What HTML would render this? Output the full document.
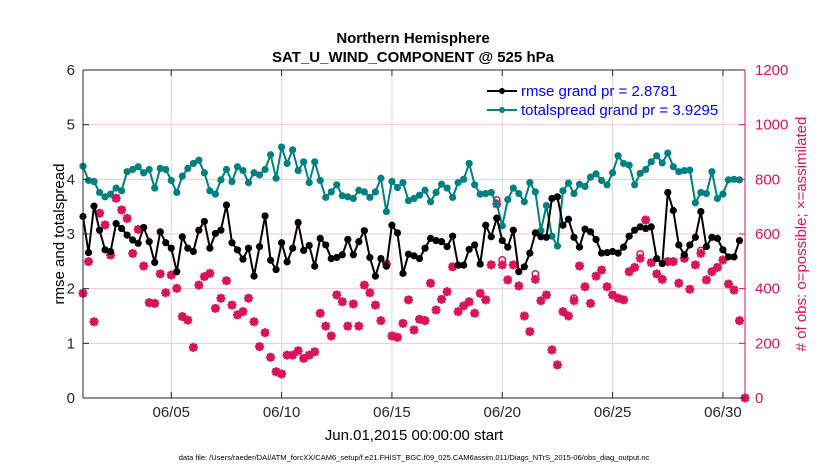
<!DOCTYPE html>
<html><head><meta charset="utf-8"><style>
html,body{margin:0;padding:0;background:#fff;}
svg{display:block;font-family:"Liberation Sans",Arial,sans-serif;}
</style></head><body>
<svg id="chart" width="830" height="470" viewBox="0 0 830 470" xmlns="http://www.w3.org/2000/svg">
<g id="grid"></g>
<g id="series"></g>
<g id="axes"></g>
<text x="413" y="43" text-anchor="middle" font-size="15" font-weight="bold">Northern Hemisphere</text>
<text x="413" y="62" text-anchor="middle" font-size="15" font-weight="bold">SAT_U_WIND_COMPONENT @ 525 hPa</text>
<text transform="translate(64,234) rotate(-90)" text-anchor="middle" font-size="15">rmse and totalspread</text>
<text transform="translate(806,234) rotate(-90)" text-anchor="middle" font-size="15" fill="#d6155a"># of obs: o=possible; ×=assimilated</text>
<text x="414" y="440" text-anchor="middle" font-size="15">Jun.01,2015 00:00:00 start</text>
<text x="414" y="460" text-anchor="middle" font-size="7.5">data file: /Users/raeder/DAI/ATM_forcXX/CAM6_setup/f.e21.FHIST_BGC.f09_025.CAM6assim.011/Diags_NTrS_2015-06/obs_diag_output.nc</text>
<g>
  <g>
    <line x1="487" y1="91" x2="517" y2="91" stroke="#000" stroke-width="2"/>
    <circle cx="502" cy="91" r="3" fill="#000"/>
    <text x="521" y="96" font-size="15" fill="#0000ff">rmse grand pr = 2.8781</text>
  </g>
  <g>
    <line x1="487" y1="110" x2="517" y2="110" stroke="#008080" stroke-width="2"/>
    <circle cx="502" cy="110" r="3" fill="#008080"/>
    <text x="521" y="115" font-size="15" fill="#0000ff">totalspread grand pr = 3.9295</text>
  </g>
</g>
</svg>
<script>
const rmse=[3.32,2.66,3.51,3.07,2.71,2.68,3.19,3.10,2.98,2.89,2.83,3.12,2.86,2.48,3.04,2.84,2.74,2.31,2.95,2.74,2.68,3.07,3.23,2.74,3.01,3.07,3.53,2.84,2.71,2.54,2.74,2.23,2.77,3.33,2.52,2.35,2.84,2.49,2.74,3.21,2.70,2.79,2.41,2.92,2.80,2.55,2.57,2.62,2.90,2.62,2.86,3.06,2.57,2.23,2.55,2.41,3.16,3.02,2.28,2.63,2.60,2.55,2.74,2.92,2.88,2.86,2.77,2.96,2.43,2.43,2.72,2.80,2.45,3.16,2.95,3.29,2.88,2.76,3.07,2.31,2.40,2.65,3.02,2.95,2.94,3.65,3.68,3.16,3.27,2.94,2.76,3.09,3.04,2.90,2.65,2.66,2.68,2.65,2.76,2.96,3.07,3.13,3.10,3.13,2.55,2.46,3.76,3.43,2.80,2.62,2.80,2.94,3.41,2.77,2.94,2.92,2.71,2.58,2.58,2.88];
const spread=[4.24,3.98,3.96,3.76,3.68,3.73,3.84,3.79,4.14,4.18,4.23,4.12,4.18,3.84,4.20,4.18,3.98,3.76,4.06,4.20,4.29,4.35,4.12,3.79,3.73,3.99,4.18,3.96,4.23,4.16,3.94,4.12,4.08,4.18,4.45,4.02,4.59,4.29,4.54,4.16,4.32,3.94,4.32,3.98,3.67,3.77,3.90,3.70,3.68,3.65,3.80,3.77,3.67,3.77,4.02,3.41,3.96,3.85,3.94,3.61,3.65,3.71,3.80,3.59,3.76,3.91,3.84,3.67,3.94,4.00,4.29,3.90,3.73,3.74,3.76,3.55,3.15,3.63,3.84,3.74,3.59,3.94,3.77,3.06,3.52,2.96,2.78,3.79,3.93,3.74,3.91,3.87,4.04,4.10,3.98,3.90,4.12,4.43,4.29,4.26,3.90,4.11,4.18,4.32,4.43,4.30,4.48,4.23,4.14,4.16,4.17,3.57,3.76,3.74,4.14,3.65,3.73,3.99,4.00,3.99];
const assimilated=[383,499,279,676,633,523,731,688,657,529,617,483,349,346,454,385,450,401,298,285,185,413,444,456,328,365,429,340,304,316,365,279,188,239,149,96,88,157,157,173,145,157,169,310,263,227,377,352,263,344,263,413,385,340,283,490,227,222,273,359,249,288,283,420,322,361,389,480,316,337,352,310,383,359,487,710,487,432,487,410,300,243,434,356,377,176,121,316,300,356,483,407,346,446,468,407,377,365,359,462,478,511,651,495,454,434,499,499,420,511,398,487,529,432,462,478,505,417,395,283,0];
const possible=[383,499,279,676,633,523,731,688,657,529,617,483,349,346,454,385,450,401,298,285,185,413,444,456,328,365,429,340,304,316,365,279,188,239,149,96,88,157,157,173,145,157,169,310,263,227,377,352,263,344,263,413,385,340,283,490,227,222,273,359,249,288,283,420,322,361,389,480,316,337,352,310,383,359,487,724,505,432,487,410,300,243,454,356,377,176,121,316,300,365,483,407,346,446,468,407,377,365,359,462,478,527,651,495,454,434,499,499,420,511,398,487,540,432,462,478,505,417,395,283,0];
const dateTicks=[5,10,15,20,25,30];
const dateLabels=["06/05","06/10","06/15","06/20","06/25","06/30"];
const leftTicks=[0,1,2,3,4,5,6];
const rightTicks=[0,200,400,600,800,1000,1200];

const NS="http://www.w3.org/2000/svg";
const X0=83,X1=745,Y0=398,Y1=70;
function xDay(d){return X0+(d-1)/30*(X1-X0);}
function xIdx(i){return xDay(1+i*0.25);}
function yL(v){return Y0-v/6*(Y0-Y1);}
function yR(v){return Y0-v/1200*(Y0-Y1);}
function mk(tag,attrs,parent){const e=document.createElementNS(NS,tag);for(const k in attrs)e.setAttribute(k,attrs[k]);parent.appendChild(e);return e;}
const grid=document.getElementById('grid'),series=document.getElementById('series'),axes=document.getElementById('axes');
const RED="#d6155a";

dateTicks.forEach((d,k)=>{
  const l=mk('line',{x1:xDay(d),x2:xDay(d),y1:Y1,y2:Y0,stroke:'#d8d8d8','stroke-width':1},grid);
  
  
  const t=mk('line',{x1:xDay(d),x2:xDay(d),y1:Y0,y2:Y0-6,stroke:'#262626','stroke-width':1},axes);
  
  
  const t2=mk('line',{x1:xDay(d),x2:xDay(d),y1:Y1,y2:Y1+6,stroke:'#262626','stroke-width':1},axes);
  
  
  const tx=mk('text',{x:xDay(d),y:417,'text-anchor':'middle','font-size':15,fill:'#262626'},axes);
  tx.textContent=dateLabels[k];
  
  
});
rightTicks.forEach(v=>{
  if(v>0&&v<1200){
  const l=mk('line',{x1:X0,x2:X1,y1:yR(v),y2:yR(v),stroke:'#f4c6d6','stroke-width':1},grid);
  
  }
  const t=mk('line',{x1:X1,x2:X1-6,y1:yR(v),y2:yR(v),stroke:RED,'stroke-width':1},axes);
  
  
  const tx=mk('text',{x:X1+10,y:yR(v)+5,'font-size':15,fill:RED},axes);
  tx.textContent=v;
  
  
});
leftTicks.forEach(v=>{
  const t=mk('line',{x1:X0,x2:X0+6,y1:yL(v),y2:yL(v),stroke:'#262626','stroke-width':1},axes);
  
  
  const tx=mk('text',{x:X0-8,y:yL(v)+5,'text-anchor':'end','font-size':15,fill:'#262626'},axes);
  tx.textContent=v;
  
  
});
const ax1=mk('line',{x1:X0,x2:X0,y1:Y1,y2:Y0,stroke:'#262626','stroke-width':1},axes);


const ax2=mk('line',{x1:X0,x2:X1,y1:Y0,y2:Y0,stroke:'#262626','stroke-width':1},axes);


const ax3=mk('line',{x1:X0,x2:X1,y1:Y1,y2:Y1,stroke:'#262626','stroke-width':1},axes);


const ax4=mk('line',{x1:X1,x2:X1,y1:Y1,y2:Y0,stroke:RED,'stroke-width':1},axes);



possible.forEach((v,i)=>{
  const c=mk('circle',{cx:xIdx(i),cy:yR(v),r:3.2,fill:'none',stroke:RED,'stroke-width':1.5},series);
  
  
});
assimilated.forEach((v,i)=>{
  const x=xIdx(i),y=yR(v);
  const p=mk('path',{d:`M${x-4.5},${y}H${x+4.5}M${x},${y-4.5}V${y+4.5}M${x-3.3},${y-3.3}L${x+3.3},${y+3.3}M${x-3.3},${y+3.3}L${x+3.3},${y-3.3}`,stroke:RED,'stroke-width':2.4},series);
  
  
});
function drawLine(arr,color,name){
  const d=arr.map((v,i)=>(i?'L':'M')+xIdx(i).toFixed(1)+','+yL(v).toFixed(1)).join('');
  const p=mk('path',{d:d,fill:'none',stroke:color,'stroke-width':2},series);
  
  
  arr.forEach((v,i)=>{
    const c=mk('circle',{cx:xIdx(i),cy:yL(v),r:3.6,fill:color},series);
    
    
  });
}
drawLine(spread,'#008080','totalspread');
drawLine(rmse,'#000000','rmse');
</script>
</body></html>
